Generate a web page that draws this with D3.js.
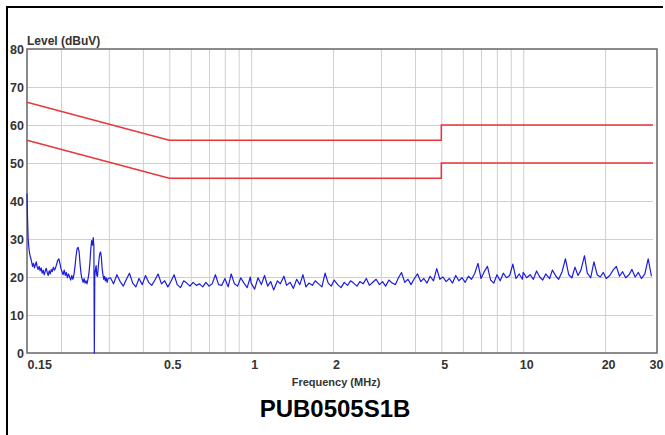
<!DOCTYPE html>
<html>
<head>
<meta charset="utf-8">
<script src="https://cdn.jsdelivr.net/npm/d3@7"></script>
<style>
  html, body { margin: 0; padding: 0; background: #fff; }
  svg { display: block; font-family: "Liberation Sans", Arial, sans-serif; }
</style>
</head>
<body>
<div id="chart"></div>
<script>
// Limit lines (MHz, dBuV)
const limitQP = [[0.15, 66], [0.5, 56], [5, 56], [5, 60], [30, 60]]
const limitAV = [[0.15, 56], [0.5, 46], [5, 46], [5, 50], [30, 50]]

// Axis ticks
const levelTicks = [0, 10, 20, 30, 40, 50, 60, 70, 80]
const freqTicks = [0.15, 0.5, 1, 2, 5, 10, 20, 30]
const freqLabels = ["0.15", "0.5", "1", "2", "5", "10", "20", "30"]
const gridFreqs = [0.2, 0.3, 0.4, 0.5, 0.6, 0.7, 0.8, 0.9, 1, 2, 3, 4, 5, 6, 7, 8, 9, 10, 20]
const gridLevels = [10, 20, 30, 40, 50, 60, 70]

const traceLow = [
  [0.1500, 42.0], [0.1504, 38.0], [0.1508, 34.5], [0.1515, 30.0], [0.1525, 27.5], [0.1535, 26.0],
  [0.1548, 25.0], [0.1560, 24.0], [0.1572, 22.8], [0.1585, 23.6], [0.1598, 22.4], [0.1610, 23.2],
  [0.1622, 24.0], [0.1635, 22.6], [0.1648, 22.0], [0.1662, 22.8], [0.1676, 21.6], [0.1690, 22.4],
  [0.1705, 21.0], [0.1720, 21.8], [0.1735, 20.6], [0.1750, 21.5], [0.1765, 22.3], [0.1780, 21.2],
  [0.1795, 20.4], [0.1810, 21.6], [0.1826, 20.8], [0.1842, 22.0], [0.1858, 21.4], [0.1875, 22.6],
  [0.1892, 21.8], [0.1910, 22.4], [0.1928, 23.4], [0.1946, 24.4], [0.1964, 24.8], [0.1982, 23.6],
  [0.2000, 22.2], [0.2018, 21.4], [0.2036, 20.6], [0.2055, 21.8], [0.2074, 20.4], [0.2093, 21.2],
  [0.2112, 19.8], [0.2132, 20.8], [0.2152, 20.0], [0.2172, 19.2], [0.2192, 20.4], [0.2212, 19.4],
  [0.2232, 20.6], [0.2252, 22.8], [0.2272, 25.6], [0.2292, 27.4], [0.2312, 27.8], [0.2332, 26.6],
  [0.2352, 23.2], [0.2372, 20.6], [0.2392, 19.4], [0.2412, 18.6], [0.2432, 19.6], [0.2452, 18.4],
  [0.2472, 19.0], [0.2492, 18.2], [0.2512, 19.4], [0.2532, 20.8], [0.2552, 23.4], [0.2572, 27.0],
  [0.2592, 29.6], [0.2612, 28.4], [0.2628, 30.4], [0.2642, 28.0], [0.2652, 0.0], [0.2662, 20.2],
  [0.2676, 21.8], [0.2692, 23.0], [0.2708, 20.4], [0.2724, 20.2], [0.2742, 22.6], [0.2760, 24.8],
  [0.2778, 26.2], [0.2796, 26.6], [0.2814, 25.2], [0.2832, 22.4], [0.2852, 20.6], [0.2872, 19.4],
  [0.2892, 20.2], [0.2912, 19.0], [0.2932, 19.8], [0.2955, 18.6], [0.2978, 19.6]
]
const traceMid = [
  [0.304, 19.8], [0.312, 18.2], [0.321, 20.6], [0.330, 18.8], [0.339, 17.6], [0.348, 19.4],
  [0.357, 21.0], [0.367, 18.4], [0.377, 17.4], [0.387, 19.6], [0.398, 18.0], [0.409, 20.4],
  [0.420, 18.6], [0.431, 17.8], [0.443, 19.2], [0.455, 20.8], [0.468, 18.2], [0.481, 19.0],
  [0.494, 17.4], [0.507, 18.8], [0.521, 20.6], [0.535, 18.0], [0.550, 17.2], [0.565, 19.0],
  [0.580, 18.4], [0.596, 17.6], [0.612, 18.6], [0.629, 17.8], [0.646, 18.2], [0.664, 17.4],
  [0.682, 18.6], [0.700, 17.6], [0.719, 18.2], [0.739, 20.6], [0.759, 18.0], [0.780, 17.8],
  [0.801, 19.6], [0.823, 17.4], [0.845, 20.8], [0.868, 18.2], [0.892, 17.6], [0.916, 19.8],
  [0.941, 18.4], [0.967, 17.2], [0.993, 20.0],
  [1.00, 18.4], [1.03, 16.8], [1.06, 19.8], [1.09, 18.0], [1.12, 20.4], [1.15, 17.6],
  [1.18, 18.8], [1.21, 16.6], [1.25, 19.0], [1.28, 18.2], [1.32, 20.2], [1.35, 17.8],
  [1.39, 18.6], [1.43, 17.0], [1.47, 19.4], [1.51, 18.0], [1.55, 20.6], [1.59, 17.4],
  [1.63, 18.4], [1.68, 17.8], [1.72, 19.0], [1.77, 18.2], [1.82, 17.4], [1.87, 21.0],
  [1.92, 18.4], [1.97, 17.6], [2.02, 19.2], [2.08, 18.0], [2.14, 17.2], [2.20, 18.6],
  [2.26, 17.8], [2.32, 19.0], [2.38, 18.4], [2.45, 17.6], [2.51, 18.8], [2.58, 18.2],
  [2.65, 19.6], [2.72, 17.8], [2.80, 18.6], [2.88, 19.4], [2.96, 18.0]
]
const traceHigh = [
  [3.04, 18.8], [3.12, 17.6], [3.21, 19.2], [3.30, 18.4], [3.39, 18.0], [3.48, 19.8],
  [3.57, 21.2], [3.67, 18.6], [3.77, 19.4], [3.87, 18.0], [3.98, 19.6], [4.09, 20.8],
  [4.20, 18.8], [4.31, 19.6], [4.43, 18.4], [4.55, 20.2], [4.68, 19.0], [4.81, 22.2],
  [4.94, 19.4], [5.07, 20.0], [5.21, 18.8], [5.35, 19.6], [5.50, 18.4], [5.65, 20.4],
  [5.80, 19.0], [5.96, 19.8], [6.12, 18.6], [6.29, 20.2], [6.46, 19.4], [6.64, 21.0],
  [6.82, 23.6], [7.00, 19.6], [7.19, 21.4], [7.39, 22.8], [7.59, 19.2], [7.80, 18.4],
  [8.01, 20.6], [8.23, 19.0], [8.45, 21.0], [8.68, 19.8], [8.92, 20.4], [9.16, 23.4],
  [9.41, 19.6], [9.67, 20.8], [9.93, 19.4],
  [10.0, 21.2], [10.3, 19.8], [10.6, 20.6], [10.9, 19.4], [11.2, 21.6], [11.5, 20.0],
  [11.8, 19.2], [12.1, 20.8], [12.5, 19.6], [12.8, 21.8], [13.2, 20.2], [13.5, 19.4],
  [13.9, 21.4], [14.3, 24.8], [14.7, 20.6], [15.1, 19.8], [15.5, 22.6], [15.9, 20.4],
  [16.3, 21.8], [16.8, 25.6], [17.2, 21.0], [17.7, 19.8], [18.2, 24.0], [18.7, 20.6],
  [19.2, 20.0], [19.7, 21.2], [20.2, 19.6], [20.8, 20.4], [21.4, 21.8], [22.0, 22.8],
  [22.6, 20.2], [23.2, 21.4], [23.8, 19.8], [24.5, 20.6], [25.1, 22.0], [25.8, 20.0],
  [26.5, 21.2], [27.2, 19.6], [28.0, 20.8], [28.8, 24.8], [29.6, 20.2]
]
const trace = traceLow.concat(traceMid, traceHigh)

const width = 665, height = 435
const plot = {left: 27, top: 49, right: 653, frame: 657, bottom: 353}

const svg = d3.select("#chart").append("svg")
    .attr("width", width)
    .attr("height", height)

var x = d3.scaleLog()
    .domain([0.15, 30])
    .range([plot.left, plot.right])

var y = d3.scaleLinear()
    .domain([0, 80])
    .range([plot.bottom, plot.top])

// Grid
svg.append("g")
    .attr("transform", "translate(0," + plot.bottom + ")")
    .call(d3.axisBottom(x).tickValues(gridFreqs).tickSize(-(plot.bottom - plot.top)).tickFormat(""))
    .call(g => g.select(".domain").remove())
    .call(g => g.selectAll("line").attr("stroke", "#d0d0d0").attr("stroke-width", 1))

svg.append("g")
    .attr("transform", "translate(" + plot.left + ",0)")
    .call(d3.axisLeft(y).tickValues(gridLevels).tickSize(-(plot.right - plot.left)).tickFormat(""))
    .call(g => g.select(".domain").remove())
    .call(g => g.selectAll("line").attr("stroke", "#d0d0d0").attr("stroke-width", 1))

// Plot frame
svg.append("rect")
    .attr("x", plot.left)
    .attr("y", plot.top)
    .attr("width", plot.frame - plot.left)
    .attr("height", plot.bottom - plot.top)
    .attr("fill", "none")
    .attr("stroke", "#666")
    .attr("stroke-width", 1.5)

var line = d3.line()
    .x(d => x(d[0]))
    .y(d => y(d[1]))

// Limit lines
;[limitQP, limitAV].forEach(lim => {
  svg.append("path")
      .datum(lim)
      .attr("fill", "none")
      .attr("stroke", "#e8363a")
      .attr("stroke-width", 1.5)
      .attr("d", line)
})

// Measurement
svg.append("path")
    .datum(trace)
    .attr("fill", "none")
    .attr("stroke", "#1c1cdc")
    .attr("stroke-width", 1.2)
    .attr("stroke-linejoin", "round")
    .attr("d", line)

// Axis labels
svg.append("g")
    .attr("transform", "translate(" + plot.left + ",0)")
    .call(d3.axisLeft(y).tickValues(levelTicks).tickSize(0).tickPadding(3))
    .call(g => g.select(".domain").remove())
    .call(g => g.selectAll("text")
      .attr("font-family", "Liberation Sans, Arial, sans-serif")
      .attr("font-size", "12.5px")
      .attr("font-weight", "bold")
      .attr("fill", "#333"))

svg.append("g")
    .attr("transform", "translate(0," + plot.bottom + ")")
    .call(d3.axisBottom(x).tickValues(freqTicks).tickFormat((d, i) => freqLabels[i]).tickSize(0).tickPadding(7))
    .call(g => g.select(".domain").remove())
    .call(g => g.selectAll("text")
      .attr("font-family", "Liberation Sans, Arial, sans-serif")
      .attr("font-size", "12.5px")
      .attr("font-weight", "bold")
      .attr("fill", "#333")
      .attr("dx", 3)
      .filter(d => d === 0.15).attr("text-anchor", "start").attr("dx", 0))

svg.append("text")
    .attr("x", plot.left)
    .attr("y", 45)
    .attr("font-size", "12px")
    .attr("font-weight", "bold")
    .attr("fill", "#333")
    .text("Level (dBuV)")

svg.append("text")
    .attr("x", 336)
    .attr("y", 386)
    .attr("text-anchor", "middle")
    .attr("font-size", "11px")
    .attr("font-weight", "bold")
    .attr("fill", "#333")
    .text("Frequency (MHz)")

svg.append("text")
    .attr("x", 335)
    .attr("y", 417)
    .attr("text-anchor", "middle")
    .attr("font-size", "24px")
    .attr("font-weight", "bold")
    .attr("fill", "#000")
    .text("PUB0505S1B")

// Outer frame (only top and left edges show)
svg.append("path")
    .attr("d", "M7," + height + "V7H663")
    .attr("fill", "none")
    .attr("stroke", "#000")
    .attr("stroke-width", 2)
</script>
</body>
</html>
